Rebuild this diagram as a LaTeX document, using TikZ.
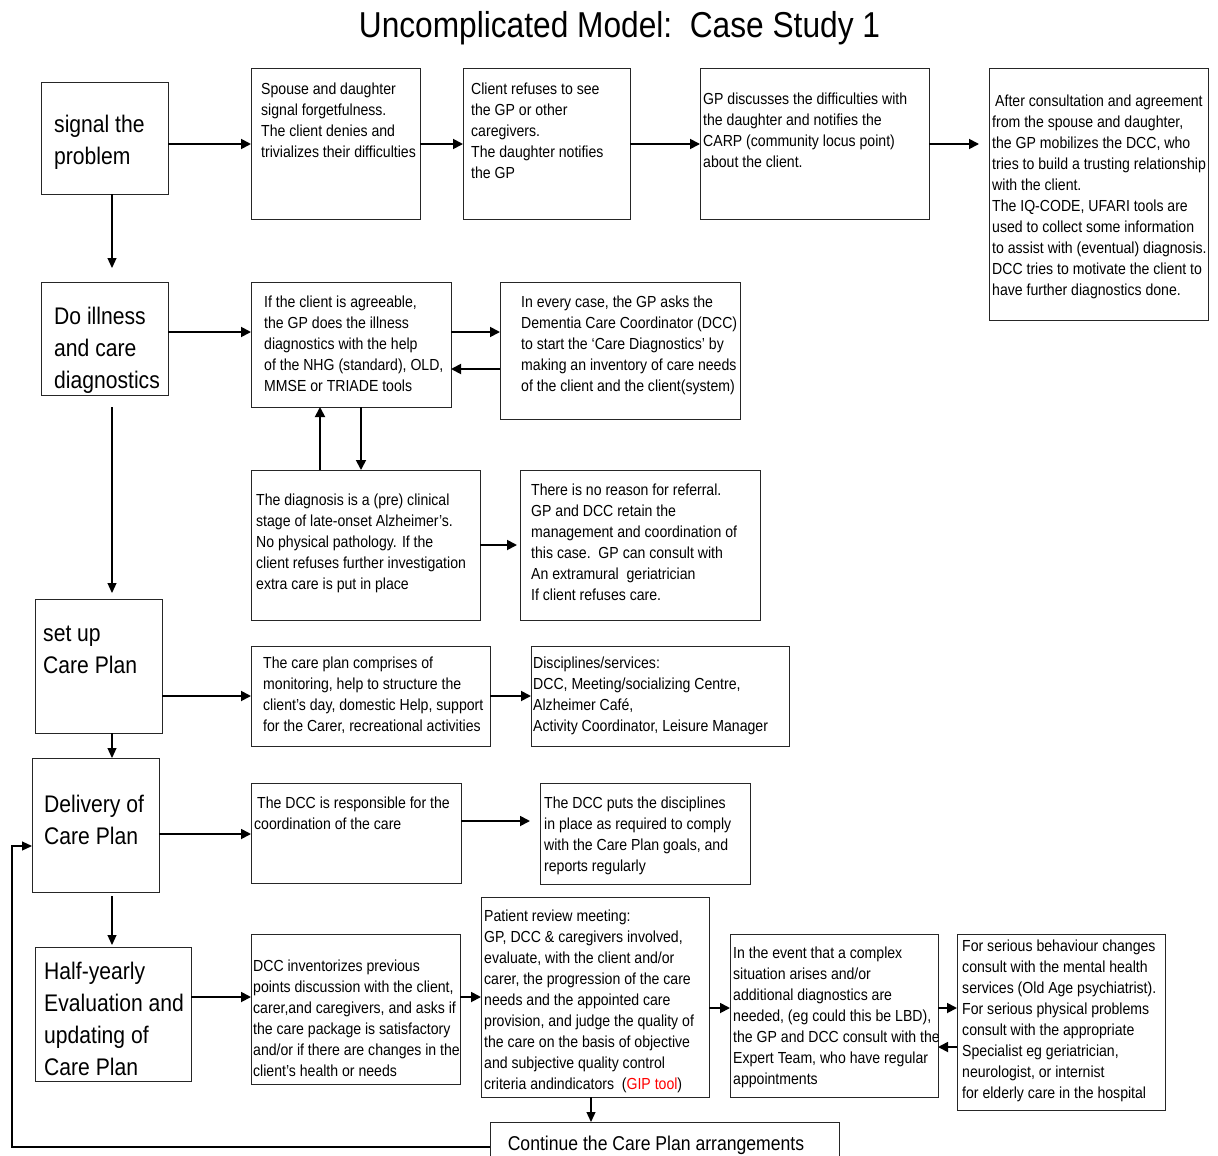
\documentclass[tikz,border=0pt]{standalone}
\usepackage{fontspec}
\setmainfont{Liberation Sans}[FakeStretch=0.88]
\usetikzlibrary{arrows.meta}
\tikzset{
  box/.style={draw=black!85, line width=1pt, inner sep=0pt, outer sep=0pt, anchor=north west},
  txt/.style={anchor=north west, inner sep=0pt, align=left, font=\fontsize{16}{21}\selectfont},
  big/.style={anchor=north west, inner sep=0pt, align=left, font=\fontsize{24}{32}\selectfont},
  harr/.style={line width=1.8pt, -{Triangle[length=10pt,width=10pt]}},
  varr/.style={line width=1.2pt, -{Triangle[length=10pt,width=9pt]}},
}
\newcommand\bx[5]{\node[box,minimum width=#3pt,minimum height=#4pt] (#5) at (#1,#2) {};}
\begin{document}
\begin{tikzpicture}[x=1pt,y=-1pt]
\useasboundingbox (0,0) rectangle (1218,1156);
\clip (0,0) rectangle (1218,1156);
% title
\node[inner sep=0pt, font=\fontsize{36}{40}\selectfont] (title) at (619.5,28) {Uncomplicated Model:\ \ Case Study 1};

% boxes
\bx{41}{82}{127}{112}{signal}
\bx{251}{69}{169}{150}{spouse}
\bx{463}{69}{167}{150}{client}
\bx{700}{69}{229}{150}{gp}
\bx{989}{69}{219}{251}{after}
\bx{41}{282}{127}{113}{doill}
\bx{251}{282}{200}{125}{ifb}
\bx{500}{282}{240}{137}{every}
\bx{251}{470}{229}{150}{diag}
\bx{520}{470}{240}{150}{noref}
\bx{35}{599}{127}{134}{setup}
\bx{251}{646}{239}{100}{careplan}
\bx{531}{646}{258}{100}{disc}
\bx{32}{758}{127}{134}{deliv}
\bx{251}{783}{210}{100}{dccresp}
\bx{540}{783}{210}{101}{dccputs}
\bx{35}{947}{156}{134}{half}
\bx{251}{934}{209}{150}{dccinv}
\bx{481}{897}{228}{200}{patient}
\bx{730}{934}{208}{163}{event}
\bx{957}{934}{208}{176}{serious}
\bx{490}{1122}{349}{50}{cont}

% big labels
\node[big] (signal-t) at (54,110) {\strut signal the\\problem};
\node[big] (doill-t) at (54,302) {\strut Do illness\\and care\\diagnostics};
\node[big] (setup-t) at (43,619) {\strut set up\\Care Plan};
\node[big] (deliv-t) at (44,790) {\strut Delivery of\\Care Plan};
\node[big] (half-t) at (44,957) {\strut Half-yearly\\Evaluation and\\updating of\\Care Plan};
\node[inner sep=0pt, font=\fontsize{20}{24}\selectfont] (cont-t) at (656,1145) {Continue the Care Plan arrangements};

% small texts
\node[txt] (spouse-t) at (261,79.5) {\strut Spouse and daughter\\signal forgetfulness.\\The client denies and\\trivializes their difficulties};
\node[txt] (client-t) at (471,79.5) {\strut Client refuses to see\\the GP or other\\caregivers.\\The daughter notifies\\the GP};
\node[txt] (gp-t) at (703,89.5) {\strut GP discusses the difficulties with\\the daughter and notifies the\\CARP (community locus point)\\about the client.};
\node[txt] (after-t) at (992,91.5) {\strut\hspace{3pt}After consultation and agreement\\from the spouse and daughter,\\the GP mobilizes the DCC, who\\tries to build a trusting relationship\\with the client.\\The IQ-CODE, UFARI tools are\\used to collect some information\\to assist with (eventual) diagnosis.\\DCC tries to motivate the client to\\have further diagnostics done.};
\node[txt] (ifb-t) at (264,292.5) {\strut If the client is agreeable,\\the GP does the illness\\diagnostics with the help\\of the NHG (standard), OLD,\\MMSE or TRIADE tools};
\node[txt] (every-t) at (521,292.5) {\strut In every case, the GP asks the\\Dementia Care Coordinator (DCC)\\to start the `Care Diagnostics' by\\making an inventory of care needs\\of the client and the client(system)};
\node[txt] (diag-t) at (256,490.5) {\strut The diagnosis is a (pre) clinical\\stage of late-onset Alzheimer's.\\No physical pathology. If the\\client refuses further investigation\\extra care is put in place};
\node[txt] (noref-t) at (531,480.5) {\strut There is no reason for referral.\\GP and DCC retain the\\management and coordination of\\this case.\ \ GP can consult with\\An extramural\ \ geriatrician\\If client refuses care.};
\node[txt] (careplan-t) at (263,653.5) {\strut The care plan comprises of\\monitoring, help to structure the\\client's day, domestic Help, support\\for the Carer, recreational activities};
\node[txt] (disc-t) at (533,653.5) {\strut Disciplines/services:\\DCC, Meeting/socializing Centre,\\Alzheimer Café,\\Activity Coordinator, Leisure Manager};
\node[txt] (dccresp-t) at (254,793.5) {\strut\hspace{3pt}The DCC is responsible for the\\coordination of the care};
\node[txt] (dccputs-t) at (544,793.5) {\strut The DCC puts the disciplines\\in place as required to comply\\with the Care Plan goals, and\\reports regularly};
\node[txt] (dccinv-t) at (253,956.5) {\strut DCC inventorizes previous\\points discussion with the client,\\carer,and caregivers, and asks if\\the care package is satisfactory\\and/or if there are changes in the\\client's health or needs};
\node[txt] (patient-t) at (484,906.5) {\strut Patient review meeting:\\GP, DCC \& caregivers involved,\\evaluate, with the client and/or\\carer, the progression of the care\\needs and the appointed care\\provision, and judge the quality of\\the care on the basis of objective\\and subjective quality control\\criteria andindicators\ \ ({\color{red}GIP tool})};
\node[txt] (event-t) at (733,943.5) {\strut In the event that a complex\\situation arises and/or\\additional diagnostics are\\needed, (eg could this be LBD),\\the GP and DCC consult with the\\Expert Team, who have regular\\appointments};
\node[txt] (serious-t) at (962,936.5) {\strut For serious behaviour changes\\consult with the mental health\\services (Old Age psychiatrist).\\For serious physical problems\\consult with the appropriate\\Specialist eg geriatrician,\\neurologist, or internist\\for elderly care in the hospital};

% horizontal arrows
\draw[harr] (signal.east |- 0,144) -- (spouse.west |- 0,144);
\draw[harr] (spouse.east |- 0,144) -- (client.west |- 0,144);
\draw[harr] (client.east |- 0,144) -- (gp.west |- 0,144);
\draw[harr] (gp.east |- 0,144) -- ([xshift=-10pt]after.west |- 0,144);
\draw[harr] (doill.east |- 0,332) -- (ifb.west |- 0,332);
\draw[harr] (ifb.east |- 0,332) -- (every.west |- 0,332);
\draw[harr] (every.west |- 0,369) -- (ifb.east |- 0,369);
\draw[harr] (diag.east |- 0,545) -- ([xshift=-3pt]noref.west |- 0,545);
\draw[harr] (setup.east |- 0,696) -- (careplan.west |- 0,696);
\draw[harr] (careplan.east |- 0,696) -- (disc.west |- 0,696);
\draw[harr] (deliv.east |- 0,834) -- (dccresp.west |- 0,834);
\draw[harr] (dccresp.east |- 0,821) -- ([xshift=-10pt]dccputs.west |- 0,821);
\draw[harr] (half.east |- 0,997) -- (dccinv.west |- 0,997);
\draw[harr] (dccinv.east |- 0,997) -- (patient.west |- 0,997);
\draw[harr] (patient.east |- 0,1008) -- (event.west |- 0,1008);
\draw[harr] (event.east |- 0,1008) -- (serious.west |- 0,1008);
\draw[harr] (serious.west |- 0,1047) -- (event.east |- 0,1047);

% vertical arrows
\draw[varr] (signal.south -| 112,0) -- ([yshift=14pt]doill.north -| 112,0);
\draw[varr] ([yshift=-12pt]doill.south -| 112,0) -- ([yshift=6pt]setup.north -| 112,0);
\draw[varr] (setup.south -| 112,0) -- (deliv.north -| 112,0);
\draw[varr] ([yshift=-4pt]deliv.south -| 112,0) -- ([yshift=2pt]half.north -| 112,0);
\draw[harr] (diag.north -| 320,0) -- (ifb.south -| 320,0);
\draw[harr] (ifb.south -| 361,0) -- (diag.north -| 361,0);
\draw[varr] (patient.south -| 591,0) -- (cont.north -| 591,0);

% feedback loop
\coordinate (loopA) at (12,1147);
\coordinate (loopB) at (12,846);
\draw[varr] (cont.west) -- (loopA) -- (loopB) -- (deliv.west |- loopB);
\end{tikzpicture}
\end{document}
